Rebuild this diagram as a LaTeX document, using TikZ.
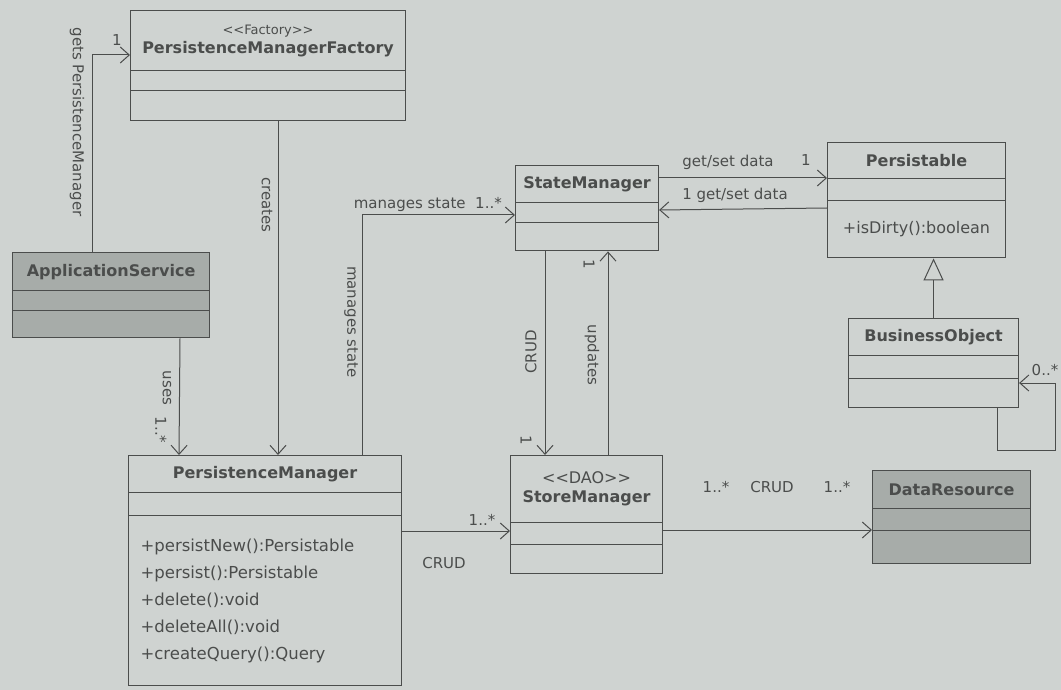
\documentclass[tikz,border=0pt]{standalone}
\usepackage{fontspec}
\setmainfont{DejaVu Sans}
\usepackage{tikz}
\usetikzlibrary{shapes,arrows.meta,positioning,calc}
\definecolor{paper}{HTML}{CFD3D1}
\definecolor{ink}{HTML}{4B4D4C}
\definecolor{shade}{HTML}{A7ACA9}
\newcommand{\cpart}[2]{\parbox[c][#1pt][c]{\linewidth}{\centering #2}}
\newcommand{\mpart}[2]{\parbox[c][#1pt][c]{\linewidth}{\raggedright #2}}
\tikzset{
    umlclass/.style={
            rectangle split,
            rectangle split parts=3,
            draw=ink,
            line width=1.1pt,
            fill=paper,
            inner sep=0pt,
            anchor=north west,
            text=ink,
            font=\fontsize{16}{19}\selectfont\bfseries
        },
    shadedclass/.style={
            umlclass,
            fill=shade
        },
    assoc/.style={
            draw=ink,
            line width=1pt,
            -{Straight Barb[length=9pt,width=16pt]}
        },
    inherit/.style={
            draw=ink,
            line width=1pt,
            -{Triangle[open,length=22pt,width=20pt,fill=paper]}
        },
    lbl/.style={
            text=ink,
            font=\fontsize{15}{18}\selectfont,
            inner sep=1pt
        }
}
\begin{document}
\begin{tikzpicture}[x=1pt,y=-1pt]
  \fill[paper] (0,0) rectangle (1061,690);
  \useasboundingbox (0,0) rectangle (1061,690);
  % classes
  \node[umlclass, text width=275pt] (pmf) at (130,10) {\cpart{59}{{\mdseries\fontsize{13}{16}\selectfont <\kern0pt<Factory>\kern0pt>}\\ PersistenceManagerFactory}\nodepart{two}\cpart{19}{}\nodepart{three}\cpart{29}{}};
  \node[shadedclass, text width=197pt] (appsvc) at (12,252) {\cpart{37}{ApplicationService}\nodepart{two}\cpart{19}{}\nodepart{three}\cpart{26}{}};
  \node[umlclass, text width=273pt] (pm) at (128,455) {\cpart{36}{PersistenceManager}\nodepart{two}\cpart{22}{}\nodepart{three}\mpart{169}{\leftskip=12pt\mdseries\fontsize{16.5}{27}\selectfont +persistNew():Persistable\\ +persist():Persistable\\ +delete():void\\ +deleteAll():void\\ +createQuery():Query}};
  \node[umlclass, text width=143pt] (stm) at (515,165) {\cpart{36}{StateManager}\nodepart{two}\cpart{19}{}\nodepart{three}\cpart{27}{}};
  \node[umlclass, text width=178pt] (per) at (827,142) {\cpart{35}{Persistable}\nodepart{two}\cpart{21}{}\nodepart{three}\cpart{56}{\mdseries +isDirty():boolean}};
  \node[umlclass, text width=170pt] (bo) at (848,318) {\cpart{36}{BusinessObject}\nodepart{two}\cpart{22}{}\nodepart{three}\cpart{28}{}};
  \node[umlclass, text width=152pt] (sto) at (510,455) {\cpart{66}{{\mdseries <\kern0pt<DAO>\kern0pt>}\\ StoreManager}\nodepart{two}\cpart{21}{}\nodepart{three}\cpart{28}{}};
  \node[shadedclass, text width=158pt] (dr) at (872,470) {\cpart{37}{DataResource}\nodepart{two}\cpart{21}{}\nodepart{three}\cpart{32}{}};
  % connectors
  \draw[assoc] ([xshift=80pt]appsvc.north west) |- ([yshift=-45pt]pmf.north west);
  \node[lbl] (mgets) at (117,40) {1};
  \node[lbl, rotate=-90] (lgets) at (77,122) {gets PersistenceManager};
  \draw[assoc] ([xshift=148pt]pmf.south west) -- ([xshift=150pt]pm.north west);
  \node[lbl, rotate=-90] (lcreates) at (267,205) {creates};
  \draw[assoc] ([xshift=168pt]appsvc.south west) -- ([xshift=51pt]pm.north west);
  \node[lbl, rotate=-90] (luses) at (167,388) {uses};
  \node[lbl, rotate=-90] (muses) at (161,430) {1..*};
  \draw[assoc] ([xshift=234pt]pm.north west) |- ([yshift=-50pt]stm.north west);
  \node[lbl, anchor=south east] (lmsh) at (503,213) {manages state~~1..*};
  \node[lbl, rotate=-90] (lmsv) at (351,322) {manages state};
  \draw[assoc] ([yshift=-13pt]stm.north east) -- ([yshift=-36pt]per.north west);
  \node[lbl] (lget) at (728,162) {get/set data};
  \node[lbl] (mget) at (806,160) {1};
  \draw[assoc] ([yshift=-66pt]per.north west) -- ([yshift=-45pt]stm.north east);
  \node[lbl] (lset) at (735,195) {1 get/set data};
  \draw[inherit] (bo.north) -- (bo.north |- per.south);
  \coordinate (boloop) at (1055,450);
  \draw[assoc] ([xshift=149pt]bo.south west) |- (boloop) |- ([yshift=-65pt]bo.north east);
  \node[lbl] (mbo) at (1045,370) {0..*};
  \draw[assoc] ([xshift=30pt]stm.south west) -- ([xshift=35pt]sto.north west);
  \node[lbl, rotate=90] (lcrud) at (531,352) {CRUD};
  \node[lbl, rotate=-90] (mcrud) at (526,440) {1};
  \draw[assoc] ([xshift=98pt]sto.north west) -- ([xshift=93pt]stm.south west);
  \node[lbl, rotate=-90] (lupd) at (592,355) {updates};
  \node[lbl, rotate=-90] (mupd) at (589,264) {1};
  \draw[assoc] ([yshift=-76pt]pm.north east) -- ([yshift=-76pt]sto.north west);
  \node[lbl] (mpmsto) at (482,520) {1..*};
  \node[lbl] (lpmsto) at (444,563) {CRUD};
  \draw[assoc] ([yshift=-75pt]sto.north east) -- ([yshift=-60pt]dr.north west);
  \node[lbl] (mstoa) at (716,487) {1..*};
  \node[lbl] (lstodr) at (772,487) {CRUD};
  \node[lbl] (mstob) at (837,487) {1..*};
\end{tikzpicture}
\end{document}
